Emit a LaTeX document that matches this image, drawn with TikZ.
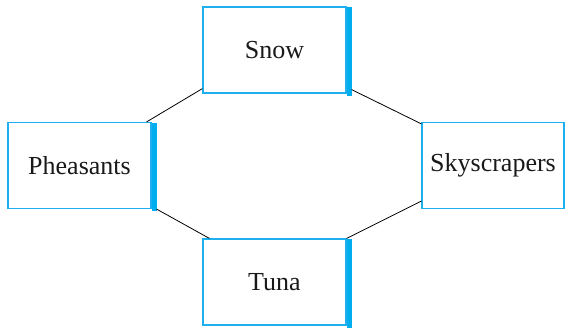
\documentclass[tikz,border=0pt]{standalone}
\usepackage{fontspec}
\setmainfont{Liberation Serif}
\definecolor{edgeblue}{RGB}{30,176,238}
\definecolor{barblue}{RGB}{0,174,239}
\tikzset{
  box/.style={draw=edgeblue, line width=1.2pt, minimum width=143pt, minimum height=86pt, inner sep=0pt, font=\fontsize{26}{30}\selectfont, text=black!90},
  link/.style={draw=black, line width=0.8pt},
  bar/.style={fill=barblue}
}
\begin{document}
\begin{tikzpicture}[x=1pt,y=-1pt]
\useasboundingbox (0,0) rectangle (565,329);
\node[box] (snow) at (274.5,50) {Snow};
\node[box] (pheas) at (79.5,165.5) {Pheasants};
\node[box, minimum width=142pt] (sky) at (493,165.5) {Skyscrapers};
\node[box] (tuna) at (274.5,282) {Tuna};
\fill[bar] ([yshift=-1pt]snow.north east) rectangle ([xshift=5pt,yshift=-2pt]snow.south east);
\fill[bar] ([yshift=-1pt]pheas.north east) rectangle ([xshift=5pt,yshift=-2pt]pheas.south east);
\fill[bar] ([yshift=-1pt]tuna.north east) rectangle ([xshift=5pt,yshift=-2pt]tuna.south east);
\draw[link] ([yshift=5pt]snow.south west) -- ([xshift=-5pt]pheas.north east);
\draw[link] ([xshift=5pt,yshift=4pt]snow.south east) -- ([yshift=-2pt]sky.north west);
\draw[link] ([yshift=8pt]sky.south west) -- (tuna.north east);
\draw[link] ([xshift=5pt]pheas.south east) -- ([xshift=7pt]tuna.north west);
\end{tikzpicture}
\end{document}
